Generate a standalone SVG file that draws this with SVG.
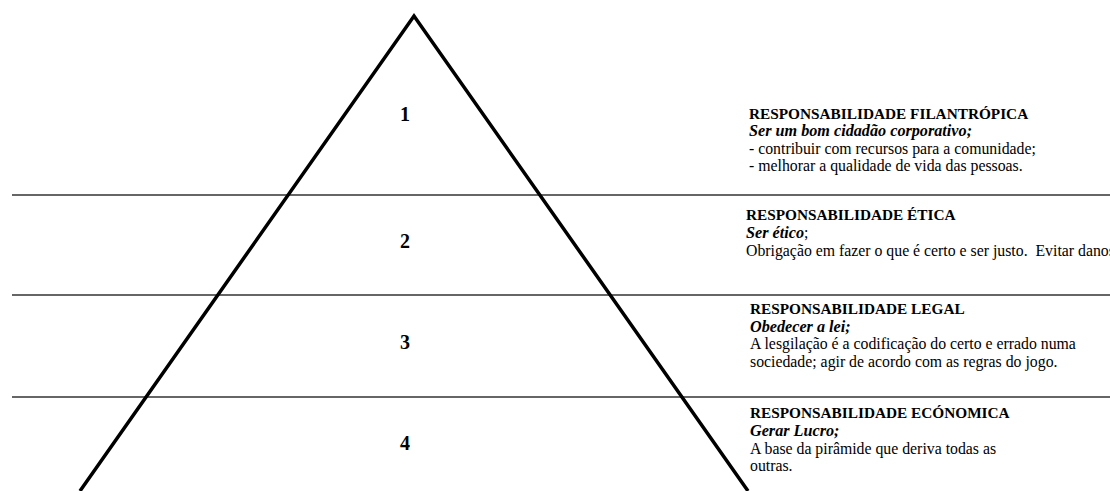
<svg xmlns="http://www.w3.org/2000/svg" width="1110" height="491" viewBox="0 0 1110 491">
<style>
.t{font-family:"Liberation Serif","Times New Roman",serif;font-size:15.8px;fill:#000;white-space:pre}
.h{font-weight:bold;font-size:15.3px}
.s{font-weight:bold;font-style:italic;font-size:16.2px}
.n{font-family:"Liberation Serif","Times New Roman",serif;font-weight:bold;font-size:20px;text-anchor:middle;fill:#000}
.sep{stroke:#333;stroke-width:1.5}
</style>
<rect width="1110" height="491" fill="#fff"/>
<g id="connectors">
<line class="sep" x1="12" y1="195" x2="1110" y2="195"/>
<line class="sep" x1="12" y1="295" x2="1110" y2="295"/>
<line class="sep" x1="12" y1="397" x2="1110" y2="397"/>
</g>
<g id="pyramid">
<polyline points="80,491 414,16 748,491" fill="none" stroke="#000" stroke-width="3.5"/>
</g>
<g id="level1">
<text class="n" x="405" y="121">1</text>
<text class="t" x="749" y="119"><tspan class="h">RESPONSABILIDADE FILANTRÓPICA</tspan><tspan class="s" x="749" dy="17">Ser um bom cidadão corporativo;</tspan><tspan x="749" dy="17.7">- contribuir com recursos para a comunidade;</tspan><tspan x="749" dy="17.7">- melhorar a qualidade de vida das pessoas.</tspan></text>
</g>
<g id="level2">
<text class="n" x="405" y="248">2</text>
<text class="t" x="746" y="220"><tspan class="h">RESPONSABILIDADE ÉTICA</tspan><tspan class="s" x="746" dy="17.5">Ser ético</tspan><tspan>;</tspan><tspan x="746" dy="18">Obrigação em fazer o que é certo e ser justo.  Evitar danos</tspan></text>
</g>
<g id="level3">
<text class="n" x="405" y="349">3</text>
<text class="t" x="750" y="314"><tspan class="h">RESPONSABILIDADE LEGAL</tspan><tspan class="s" x="750" dy="17.5">Obedecer a lei;</tspan><tspan x="750" dy="17.5">A lesgilação é a codificação do certo e errado numa</tspan><tspan x="750" dy="17.5">sociedade; agir de acordo com as regras do jogo.</tspan></text>
</g>
<g id="level4">
<text class="n" x="405" y="450">4</text>
<text class="t" x="750" y="418"><tspan class="h">RESPONSABILIDADE ECÓNOMICA</tspan><tspan class="s" x="750" dy="17.5">Gerar Lucro;</tspan><tspan x="750" dy="18">A base da pirâmide que deriva todas as</tspan><tspan x="750" dy="17.5">outras.</tspan></text>
</g>
</svg>
